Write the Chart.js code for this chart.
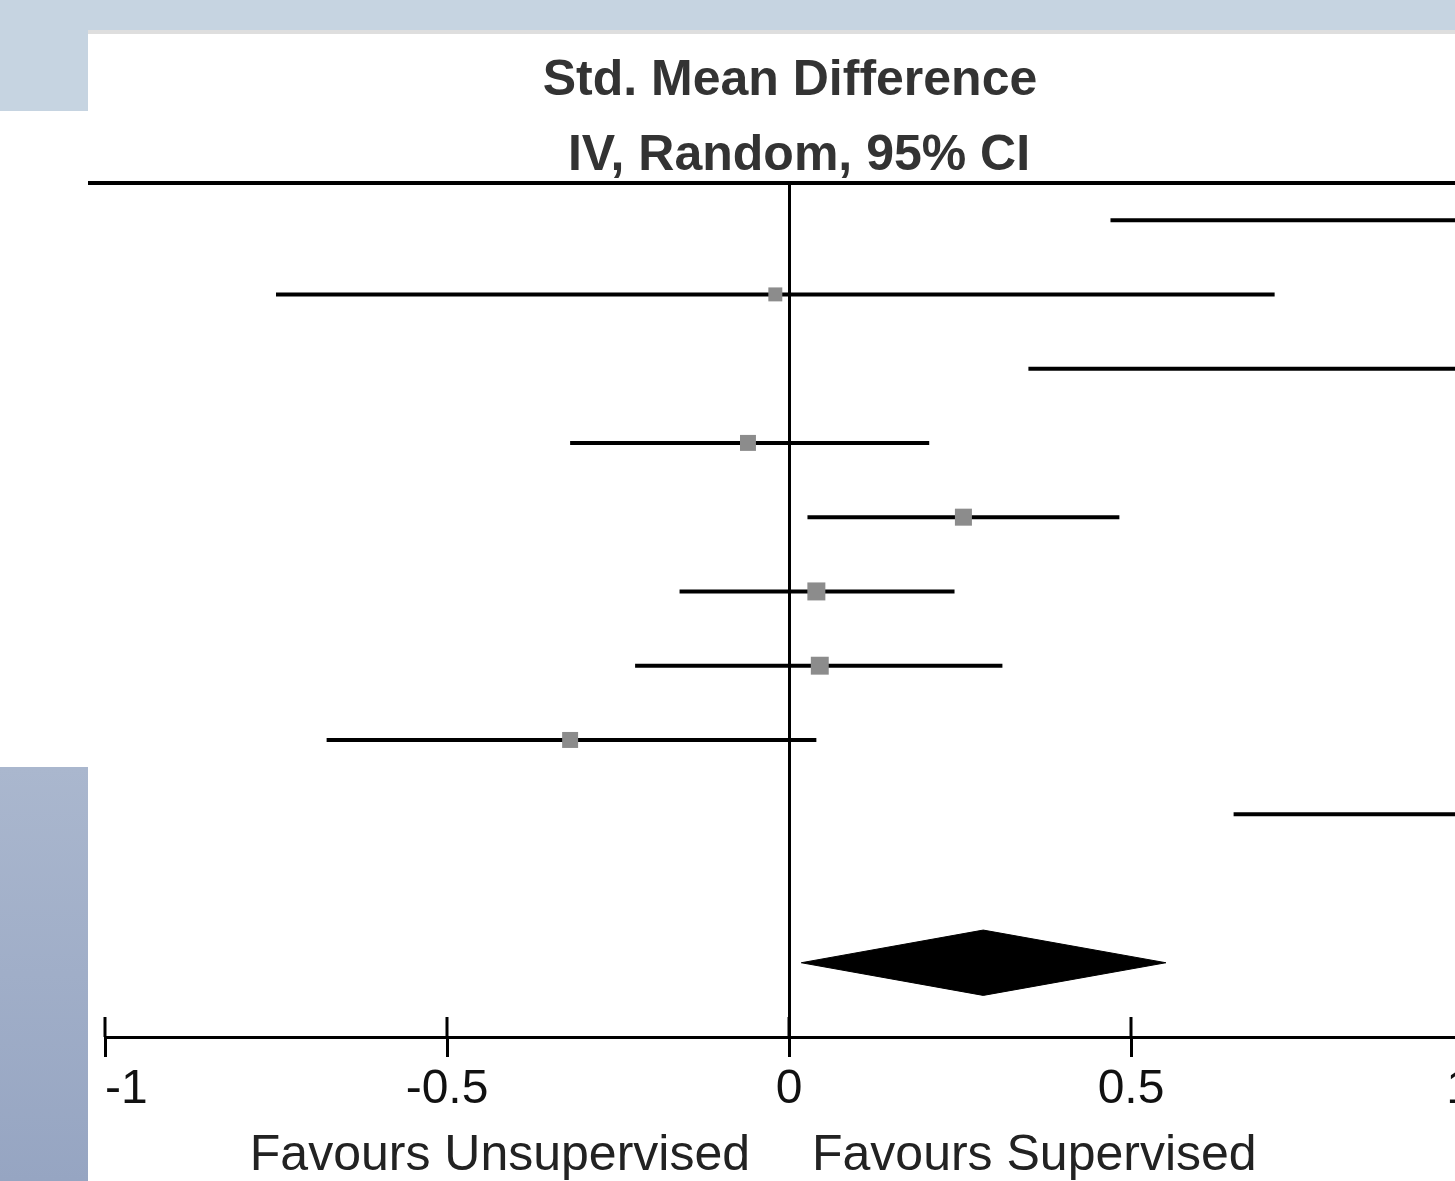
<!DOCTYPE html>
<html><head><meta charset="utf-8">
<script src="https://cdn.jsdelivr.net/npm/chart.js@4/dist/chart.umd.min.js"></script>
<style>
html,body{margin:0;padding:0;width:1455px;height:1181px;overflow:hidden;background:#fff;}
.bg{position:absolute;}
#wrap{position:absolute;left:0;top:0;width:1700px;height:1181px;}
</style></head><body>
<div class="bg" style="left:0;top:0;width:1455px;height:30px;background:#c6d4e1"></div>
<div class="bg" style="left:0;top:0;width:88px;height:111px;background:#c6d4e1"></div>
<div class="bg" style="left:88px;top:30px;width:1367px;height:4px;background:#dedede"></div>
<div class="bg" style="left:0;top:767px;width:88px;height:414px;background:linear-gradient(#aab7ce,#96a5c2)"></div>
<div id="wrap"><canvas id="c" width="1700" height="1181"></canvas></div>
<script>
// ---- data ----
const studyRows = [0, 1, 2, 3, 4, 5, 6, 7, 8];
const smd      = [1.05, -0.02, 1.00, -0.06, 0.255, 0.04, 0.045, -0.32, 1.15];
const ciLow    = [0.47, -0.75, 0.35, -0.32, 0.027, -0.16, -0.225, -0.676, 0.65];
const ciHigh   = [1.62, 0.71, 1.65, 0.205, 0.483, 0.242, 0.312, 0.04, 1.66];
const weights  = [10.5, 7.4, 10.6, 9.7, 11.0, 12.3, 12.2, 9.7, 11.2];
const pooledRow = 10;
const pooled   = [0.018, 0.284, 0.551]; // low, estimate, high
const tickValues = [-1, -0.5, 0, 0.5, 1];
const tickLabels = ["-1", "-0.5", "0", "0.5", "1"];
const titleLines = ["Std. Mean Difference", "IV, Random, 95% CI"];
const favourLeft = "Favours Unsupervised";
const favourRight = "Favours Supervised";

// ---- build ----
const FONT = '"Liberation Sans", Arial, sans-serif';
const DIAMOND_HALF = 0.44;
const datasets = [];
datasets.push({
  type: 'scatter', order: 0,
  data: studyRows.map(i => ({x: smd[i], y: i})),
  pointStyle: 'rect',
  pointRadius: weights.map(w => 5.13 * Math.sqrt(w) / Math.SQRT2),
  backgroundColor: '#8c8c8c', borderWidth: 0
});
datasets.push({
  type: 'line', order: 1,
  data: [
    {x: pooled[0], y: pooledRow},
    {x: pooled[1], y: pooledRow - DIAMOND_HALF},
    {x: pooled[2], y: pooledRow},
    {x: pooled[1], y: pooledRow + DIAMOND_HALF},
    {x: pooled[0], y: pooledRow}
  ],
  fill: 'shape', backgroundColor: '#000', borderColor: '#000', borderWidth: 1,
  pointRadius: 0, tension: 0
});
studyRows.forEach(i => {
  datasets.push({
    type: 'line', order: 2,
    data: [{x: ciLow[i], y: i}, {x: ciHigh[i], y: i}],
    borderColor: '#000', borderWidth: 4, pointRadius: 0, fill: false
  });
});

const decor = {
  id: 'decor',
  afterDraw(chart) {
    const {ctx, chartArea: a, scales: {x}} = chart;
    ctx.save();
    ctx.strokeStyle = '#000';
    ctx.lineWidth = 4;
    ctx.beginPath(); ctx.moveTo(88, a.top); ctx.lineTo(chart.width, a.top); ctx.stroke();
    ctx.lineWidth = 3;
    x.ticks.forEach(t => {
      const px = x.getPixelForValue(t.value);
      ctx.beginPath(); ctx.moveTo(px, a.bottom - 20); ctx.lineTo(px, a.bottom); ctx.stroke();
    });
    const p0 = x.getPixelForValue(0);
    ctx.fillStyle = '#333';
    ctx.font = 'bold 50px ' + FONT;
    ctx.textAlign = 'center'; ctx.textBaseline = 'alphabetic';
    ctx.fillText(titleLines[0], p0 + 1, 95);
    ctx.fillText(titleLines[1], p0 + 10, 170);
    ctx.fillStyle = '#222';
    ctx.font = '50px ' + FONT;
    ctx.textAlign = 'right';
    ctx.fillText(favourLeft, p0 - 39, 1170);
    ctx.textAlign = 'left';
    ctx.fillText(favourRight, p0 + 23, 1170);
    ctx.restore();
  }
};

new Chart(document.getElementById('c'), {
  type: 'scatter',
  data: {datasets},
  options: {
    responsive: false, animation: false, devicePixelRatio: 1,
    layout: {padding: {left: 105, right: 56, top: 183, bottom: 44}},
    plugins: {legend: {display: false}, tooltip: {enabled: false}, title: {display: false}},
    scales: {
      x: {
        type: 'linear', min: -1, max: 1.25,
        afterBuildTicks: s => { s.ticks = tickValues.map(v => ({value: v})); },
        afterFit: s => { s.height = 100; },
        border: {display: true, color: '#000', width: 3},
        grid: {
          drawOnChartArea: true,
          color: c => (c.tick && c.tick.value === 0) ? '#000' : 'rgba(0,0,0,0)',
          lineWidth: 3, drawTicks: true, tickLength: 20, tickColor: '#000', tickWidth: 3
        },
        ticks: {
          align: 'inner', padding: 4, color: '#111', maxRotation: 0, autoSkip: false,
          font: {family: FONT, size: 48},
          callback: (v, idx) => tickLabels[tickValues.indexOf(v)]
        }
      },
      y: {type: 'linear', min: -0.5, max: 11, reverse: true, display: false}
    }
  },
  plugins: [decor]
});
</script>
</body></html>
